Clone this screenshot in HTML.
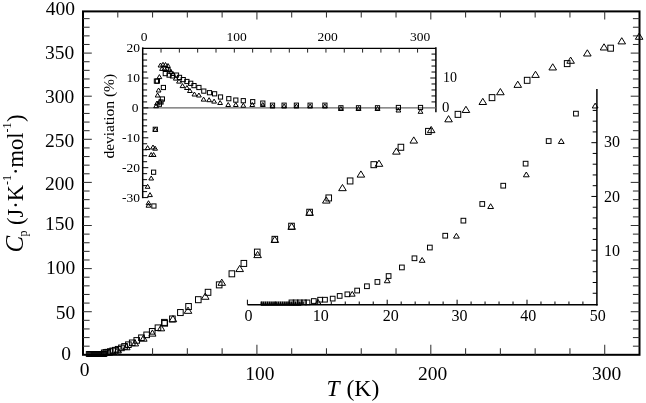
<!DOCTYPE html><html><head><meta charset="utf-8"><style>html,body{margin:0;padding:0;background:#fff;}svg{display:block;filter:grayscale(1);}text{font-family:"Liberation Serif",serif;fill:#000;}</style></head><body>
<svg width="646" height="403" viewBox="0 0 646 403">
<rect width="646" height="403" fill="#fff"/>
<rect x="83.00" y="11.40" width="556.50" height="343.40" fill="none" stroke="#000" stroke-width="2"/>
<line x1="117.78" y1="354.80" x2="117.78" y2="348.30" stroke="#333" stroke-width="1.05"/>
<line x1="117.78" y1="11.40" x2="117.78" y2="17.40" stroke="#333" stroke-width="1.05"/>
<line x1="152.56" y1="354.80" x2="152.56" y2="348.30" stroke="#333" stroke-width="1.05"/>
<line x1="152.56" y1="11.40" x2="152.56" y2="17.40" stroke="#333" stroke-width="1.05"/>
<line x1="187.34" y1="354.80" x2="187.34" y2="348.30" stroke="#333" stroke-width="1.05"/>
<line x1="187.34" y1="11.40" x2="187.34" y2="17.40" stroke="#333" stroke-width="1.05"/>
<line x1="222.12" y1="354.80" x2="222.12" y2="348.30" stroke="#333" stroke-width="1.05"/>
<line x1="222.12" y1="11.40" x2="222.12" y2="17.40" stroke="#333" stroke-width="1.05"/>
<line x1="256.91" y1="354.80" x2="256.91" y2="344.80" stroke="#333" stroke-width="1.05"/>
<line x1="256.91" y1="11.40" x2="256.91" y2="19.40" stroke="#333" stroke-width="1.05"/>
<line x1="291.69" y1="354.80" x2="291.69" y2="348.30" stroke="#333" stroke-width="1.05"/>
<line x1="291.69" y1="11.40" x2="291.69" y2="17.40" stroke="#333" stroke-width="1.05"/>
<line x1="326.47" y1="354.80" x2="326.47" y2="348.30" stroke="#333" stroke-width="1.05"/>
<line x1="326.47" y1="11.40" x2="326.47" y2="17.40" stroke="#333" stroke-width="1.05"/>
<line x1="361.25" y1="354.80" x2="361.25" y2="348.30" stroke="#333" stroke-width="1.05"/>
<line x1="361.25" y1="11.40" x2="361.25" y2="17.40" stroke="#333" stroke-width="1.05"/>
<line x1="396.03" y1="354.80" x2="396.03" y2="348.30" stroke="#333" stroke-width="1.05"/>
<line x1="396.03" y1="11.40" x2="396.03" y2="17.40" stroke="#333" stroke-width="1.05"/>
<line x1="430.81" y1="354.80" x2="430.81" y2="344.80" stroke="#333" stroke-width="1.05"/>
<line x1="430.81" y1="11.40" x2="430.81" y2="19.40" stroke="#333" stroke-width="1.05"/>
<line x1="465.59" y1="354.80" x2="465.59" y2="348.30" stroke="#333" stroke-width="1.05"/>
<line x1="465.59" y1="11.40" x2="465.59" y2="17.40" stroke="#333" stroke-width="1.05"/>
<line x1="500.38" y1="354.80" x2="500.38" y2="348.30" stroke="#333" stroke-width="1.05"/>
<line x1="500.38" y1="11.40" x2="500.38" y2="17.40" stroke="#333" stroke-width="1.05"/>
<line x1="535.16" y1="354.80" x2="535.16" y2="348.30" stroke="#333" stroke-width="1.05"/>
<line x1="535.16" y1="11.40" x2="535.16" y2="17.40" stroke="#333" stroke-width="1.05"/>
<line x1="569.94" y1="354.80" x2="569.94" y2="348.30" stroke="#333" stroke-width="1.05"/>
<line x1="569.94" y1="11.40" x2="569.94" y2="17.40" stroke="#333" stroke-width="1.05"/>
<line x1="604.72" y1="354.80" x2="604.72" y2="344.80" stroke="#333" stroke-width="1.05"/>
<line x1="604.72" y1="11.40" x2="604.72" y2="19.40" stroke="#333" stroke-width="1.05"/>
<line x1="83.00" y1="346.18" x2="89.60" y2="346.18" stroke="#333" stroke-width="1.05"/>
<line x1="639.50" y1="346.18" x2="632.90" y2="346.18" stroke="#333" stroke-width="1.05"/>
<line x1="83.00" y1="337.56" x2="89.60" y2="337.56" stroke="#333" stroke-width="1.05"/>
<line x1="639.50" y1="337.56" x2="632.90" y2="337.56" stroke="#333" stroke-width="1.05"/>
<line x1="83.00" y1="328.94" x2="89.60" y2="328.94" stroke="#333" stroke-width="1.05"/>
<line x1="639.50" y1="328.94" x2="632.90" y2="328.94" stroke="#333" stroke-width="1.05"/>
<line x1="83.00" y1="320.32" x2="89.60" y2="320.32" stroke="#333" stroke-width="1.05"/>
<line x1="639.50" y1="320.32" x2="632.90" y2="320.32" stroke="#333" stroke-width="1.05"/>
<line x1="83.00" y1="311.70" x2="91.80" y2="311.70" stroke="#333" stroke-width="1.05"/>
<line x1="639.50" y1="311.70" x2="630.70" y2="311.70" stroke="#333" stroke-width="1.05"/>
<line x1="83.00" y1="303.08" x2="89.60" y2="303.08" stroke="#333" stroke-width="1.05"/>
<line x1="639.50" y1="303.08" x2="632.90" y2="303.08" stroke="#333" stroke-width="1.05"/>
<line x1="83.00" y1="294.46" x2="89.60" y2="294.46" stroke="#333" stroke-width="1.05"/>
<line x1="639.50" y1="294.46" x2="632.90" y2="294.46" stroke="#333" stroke-width="1.05"/>
<line x1="83.00" y1="285.84" x2="89.60" y2="285.84" stroke="#333" stroke-width="1.05"/>
<line x1="639.50" y1="285.84" x2="632.90" y2="285.84" stroke="#333" stroke-width="1.05"/>
<line x1="83.00" y1="277.22" x2="89.60" y2="277.22" stroke="#333" stroke-width="1.05"/>
<line x1="639.50" y1="277.22" x2="632.90" y2="277.22" stroke="#333" stroke-width="1.05"/>
<line x1="83.00" y1="268.60" x2="91.80" y2="268.60" stroke="#333" stroke-width="1.05"/>
<line x1="639.50" y1="268.60" x2="630.70" y2="268.60" stroke="#333" stroke-width="1.05"/>
<line x1="83.00" y1="259.98" x2="89.60" y2="259.98" stroke="#333" stroke-width="1.05"/>
<line x1="639.50" y1="259.98" x2="632.90" y2="259.98" stroke="#333" stroke-width="1.05"/>
<line x1="83.00" y1="251.36" x2="89.60" y2="251.36" stroke="#333" stroke-width="1.05"/>
<line x1="639.50" y1="251.36" x2="632.90" y2="251.36" stroke="#333" stroke-width="1.05"/>
<line x1="83.00" y1="242.74" x2="89.60" y2="242.74" stroke="#333" stroke-width="1.05"/>
<line x1="639.50" y1="242.74" x2="632.90" y2="242.74" stroke="#333" stroke-width="1.05"/>
<line x1="83.00" y1="234.12" x2="89.60" y2="234.12" stroke="#333" stroke-width="1.05"/>
<line x1="639.50" y1="234.12" x2="632.90" y2="234.12" stroke="#333" stroke-width="1.05"/>
<line x1="83.00" y1="225.50" x2="91.80" y2="225.50" stroke="#333" stroke-width="1.05"/>
<line x1="639.50" y1="225.50" x2="630.70" y2="225.50" stroke="#333" stroke-width="1.05"/>
<line x1="83.00" y1="216.88" x2="89.60" y2="216.88" stroke="#333" stroke-width="1.05"/>
<line x1="639.50" y1="216.88" x2="632.90" y2="216.88" stroke="#333" stroke-width="1.05"/>
<line x1="83.00" y1="208.26" x2="89.60" y2="208.26" stroke="#333" stroke-width="1.05"/>
<line x1="639.50" y1="208.26" x2="632.90" y2="208.26" stroke="#333" stroke-width="1.05"/>
<line x1="83.00" y1="199.64" x2="89.60" y2="199.64" stroke="#333" stroke-width="1.05"/>
<line x1="639.50" y1="199.64" x2="632.90" y2="199.64" stroke="#333" stroke-width="1.05"/>
<line x1="83.00" y1="191.02" x2="89.60" y2="191.02" stroke="#333" stroke-width="1.05"/>
<line x1="639.50" y1="191.02" x2="632.90" y2="191.02" stroke="#333" stroke-width="1.05"/>
<line x1="83.00" y1="182.40" x2="91.80" y2="182.40" stroke="#333" stroke-width="1.05"/>
<line x1="639.50" y1="182.40" x2="630.70" y2="182.40" stroke="#333" stroke-width="1.05"/>
<line x1="83.00" y1="173.78" x2="89.60" y2="173.78" stroke="#333" stroke-width="1.05"/>
<line x1="639.50" y1="173.78" x2="632.90" y2="173.78" stroke="#333" stroke-width="1.05"/>
<line x1="83.00" y1="165.16" x2="89.60" y2="165.16" stroke="#333" stroke-width="1.05"/>
<line x1="639.50" y1="165.16" x2="632.90" y2="165.16" stroke="#333" stroke-width="1.05"/>
<line x1="83.00" y1="156.54" x2="89.60" y2="156.54" stroke="#333" stroke-width="1.05"/>
<line x1="639.50" y1="156.54" x2="632.90" y2="156.54" stroke="#333" stroke-width="1.05"/>
<line x1="83.00" y1="147.92" x2="89.60" y2="147.92" stroke="#333" stroke-width="1.05"/>
<line x1="639.50" y1="147.92" x2="632.90" y2="147.92" stroke="#333" stroke-width="1.05"/>
<line x1="83.00" y1="139.30" x2="91.80" y2="139.30" stroke="#333" stroke-width="1.05"/>
<line x1="639.50" y1="139.30" x2="630.70" y2="139.30" stroke="#333" stroke-width="1.05"/>
<line x1="83.00" y1="130.68" x2="89.60" y2="130.68" stroke="#333" stroke-width="1.05"/>
<line x1="639.50" y1="130.68" x2="632.90" y2="130.68" stroke="#333" stroke-width="1.05"/>
<line x1="83.00" y1="122.06" x2="89.60" y2="122.06" stroke="#333" stroke-width="1.05"/>
<line x1="639.50" y1="122.06" x2="632.90" y2="122.06" stroke="#333" stroke-width="1.05"/>
<line x1="83.00" y1="113.44" x2="89.60" y2="113.44" stroke="#333" stroke-width="1.05"/>
<line x1="639.50" y1="113.44" x2="632.90" y2="113.44" stroke="#333" stroke-width="1.05"/>
<line x1="83.00" y1="104.82" x2="89.60" y2="104.82" stroke="#333" stroke-width="1.05"/>
<line x1="639.50" y1="104.82" x2="632.90" y2="104.82" stroke="#333" stroke-width="1.05"/>
<line x1="83.00" y1="96.20" x2="91.80" y2="96.20" stroke="#333" stroke-width="1.05"/>
<line x1="639.50" y1="96.20" x2="630.70" y2="96.20" stroke="#333" stroke-width="1.05"/>
<line x1="83.00" y1="87.58" x2="89.60" y2="87.58" stroke="#333" stroke-width="1.05"/>
<line x1="639.50" y1="87.58" x2="632.90" y2="87.58" stroke="#333" stroke-width="1.05"/>
<line x1="83.00" y1="78.96" x2="89.60" y2="78.96" stroke="#333" stroke-width="1.05"/>
<line x1="639.50" y1="78.96" x2="632.90" y2="78.96" stroke="#333" stroke-width="1.05"/>
<line x1="83.00" y1="70.34" x2="89.60" y2="70.34" stroke="#333" stroke-width="1.05"/>
<line x1="639.50" y1="70.34" x2="632.90" y2="70.34" stroke="#333" stroke-width="1.05"/>
<line x1="83.00" y1="61.72" x2="89.60" y2="61.72" stroke="#333" stroke-width="1.05"/>
<line x1="639.50" y1="61.72" x2="632.90" y2="61.72" stroke="#333" stroke-width="1.05"/>
<line x1="83.00" y1="53.10" x2="91.80" y2="53.10" stroke="#333" stroke-width="1.05"/>
<line x1="639.50" y1="53.10" x2="630.70" y2="53.10" stroke="#333" stroke-width="1.05"/>
<line x1="83.00" y1="44.48" x2="89.60" y2="44.48" stroke="#333" stroke-width="1.05"/>
<line x1="639.50" y1="44.48" x2="632.90" y2="44.48" stroke="#333" stroke-width="1.05"/>
<line x1="83.00" y1="35.86" x2="89.60" y2="35.86" stroke="#333" stroke-width="1.05"/>
<line x1="639.50" y1="35.86" x2="632.90" y2="35.86" stroke="#333" stroke-width="1.05"/>
<line x1="83.00" y1="27.24" x2="89.60" y2="27.24" stroke="#333" stroke-width="1.05"/>
<line x1="639.50" y1="27.24" x2="632.90" y2="27.24" stroke="#333" stroke-width="1.05"/>
<line x1="83.00" y1="18.62" x2="89.60" y2="18.62" stroke="#333" stroke-width="1.05"/>
<line x1="639.50" y1="18.62" x2="632.90" y2="18.62" stroke="#333" stroke-width="1.05"/>
<text x="75.10" y="15.10" font-size="19.5" text-anchor="end" >400</text>
<text x="74.30" y="58.80" font-size="19.5" text-anchor="end" >350</text>
<text x="74.30" y="103.00" font-size="19.5" text-anchor="end" >300</text>
<text x="74.30" y="146.90" font-size="19.5" text-anchor="end" >250</text>
<text x="74.30" y="190.10" font-size="19.5" text-anchor="end" >200</text>
<text x="74.30" y="230.40" font-size="19.5" text-anchor="end" >150</text>
<text x="75.20" y="274.30" font-size="19.5" text-anchor="end" >100</text>
<text x="75.20" y="318.60" font-size="19.5" text-anchor="end" >50</text>
<text x="71.00" y="359.70" font-size="19.5" text-anchor="end" >0</text>
<text x="84.50" y="375.90" font-size="19.5" text-anchor="middle" >0</text>
<text x="259.80" y="379.80" font-size="19.5" text-anchor="middle" >100</text>
<text x="432.70" y="379.80" font-size="19.5" text-anchor="middle" >200</text>
<text x="606.60" y="379.80" font-size="19.5" text-anchor="middle" >300</text>
<text x="326.6" y="395.8" font-size="23.5" font-style="italic">T</text>
<text x="346.5" y="395.8" font-size="23.6">(K)</text>
<text transform="translate(23.0,252.6) rotate(-90)" font-size="22.5"><tspan font-style="italic" font-size="25">C</tspan><tspan font-size="12" dy="4" dx="-0.6">p</tspan><tspan dy="-4"> (J·K</tspan><tspan font-size="12" dy="-11.8">-1</tspan><tspan dy="11.8">·mol</tspan><tspan font-size="12" dy="-11.8">-1</tspan><tspan dy="11.8" dx="0.3">)</tspan></text>
<line x1="142.7" y1="48.4" x2="435.9" y2="48.4" stroke="#000" stroke-width="1.35"/>
<line x1="142.7" y1="47.35" x2="142.7" y2="198.20000000000002" stroke="#000" stroke-width="1.5"/>
<line x1="435.9" y1="47.35" x2="435.9" y2="112.2" stroke="#000" stroke-width="1.5"/>
<line x1="142.7" y1="107.9" x2="435.9" y2="107.9" stroke="#666" stroke-width="1.3"/>
<line x1="161.02" y1="48.40" x2="161.02" y2="52.60" stroke="#222" stroke-width="1"/>
<line x1="179.35" y1="48.40" x2="179.35" y2="52.60" stroke="#222" stroke-width="1"/>
<line x1="197.67" y1="48.40" x2="197.67" y2="52.60" stroke="#222" stroke-width="1"/>
<line x1="216.00" y1="48.40" x2="216.00" y2="52.60" stroke="#222" stroke-width="1"/>
<line x1="234.32" y1="48.40" x2="234.32" y2="52.60" stroke="#222" stroke-width="1"/>
<line x1="252.65" y1="48.40" x2="252.65" y2="52.60" stroke="#222" stroke-width="1"/>
<line x1="270.98" y1="48.40" x2="270.98" y2="52.60" stroke="#222" stroke-width="1"/>
<line x1="289.30" y1="48.40" x2="289.30" y2="52.60" stroke="#222" stroke-width="1"/>
<line x1="307.62" y1="48.40" x2="307.62" y2="52.60" stroke="#222" stroke-width="1"/>
<line x1="325.95" y1="48.40" x2="325.95" y2="52.60" stroke="#222" stroke-width="1"/>
<line x1="344.27" y1="48.40" x2="344.27" y2="52.60" stroke="#222" stroke-width="1"/>
<line x1="362.60" y1="48.40" x2="362.60" y2="52.60" stroke="#222" stroke-width="1"/>
<line x1="380.92" y1="48.40" x2="380.92" y2="52.60" stroke="#222" stroke-width="1"/>
<line x1="399.25" y1="48.40" x2="399.25" y2="52.60" stroke="#222" stroke-width="1"/>
<line x1="417.57" y1="48.40" x2="417.57" y2="52.60" stroke="#222" stroke-width="1"/>
<line x1="142.70" y1="197.60" x2="148.30" y2="197.60" stroke="#000" stroke-width="1"/>
<line x1="142.70" y1="191.62" x2="147.10" y2="191.62" stroke="#000" stroke-width="1"/>
<line x1="142.70" y1="185.64" x2="147.10" y2="185.64" stroke="#000" stroke-width="1"/>
<line x1="142.70" y1="179.66" x2="147.10" y2="179.66" stroke="#000" stroke-width="1"/>
<line x1="142.70" y1="173.68" x2="147.10" y2="173.68" stroke="#000" stroke-width="1"/>
<line x1="142.70" y1="167.70" x2="148.30" y2="167.70" stroke="#000" stroke-width="1"/>
<line x1="142.70" y1="161.72" x2="147.10" y2="161.72" stroke="#000" stroke-width="1"/>
<line x1="142.70" y1="155.74" x2="147.10" y2="155.74" stroke="#000" stroke-width="1"/>
<line x1="142.70" y1="149.76" x2="147.10" y2="149.76" stroke="#000" stroke-width="1"/>
<line x1="142.70" y1="143.78" x2="147.10" y2="143.78" stroke="#000" stroke-width="1"/>
<line x1="142.70" y1="137.80" x2="148.30" y2="137.80" stroke="#000" stroke-width="1"/>
<line x1="142.70" y1="131.82" x2="147.10" y2="131.82" stroke="#000" stroke-width="1"/>
<line x1="142.70" y1="125.84" x2="147.10" y2="125.84" stroke="#000" stroke-width="1"/>
<line x1="142.70" y1="119.86" x2="147.10" y2="119.86" stroke="#000" stroke-width="1"/>
<line x1="142.70" y1="113.88" x2="147.10" y2="113.88" stroke="#000" stroke-width="1"/>
<line x1="142.70" y1="107.90" x2="148.30" y2="107.90" stroke="#000" stroke-width="1"/>
<line x1="142.70" y1="101.92" x2="147.10" y2="101.92" stroke="#000" stroke-width="1"/>
<line x1="142.70" y1="95.94" x2="147.10" y2="95.94" stroke="#000" stroke-width="1"/>
<line x1="142.70" y1="89.96" x2="147.10" y2="89.96" stroke="#000" stroke-width="1"/>
<line x1="142.70" y1="83.98" x2="147.10" y2="83.98" stroke="#000" stroke-width="1"/>
<line x1="142.70" y1="78.00" x2="148.30" y2="78.00" stroke="#000" stroke-width="1"/>
<line x1="142.70" y1="72.02" x2="147.10" y2="72.02" stroke="#000" stroke-width="1"/>
<line x1="142.70" y1="66.04" x2="147.10" y2="66.04" stroke="#000" stroke-width="1"/>
<line x1="142.70" y1="60.06" x2="147.10" y2="60.06" stroke="#000" stroke-width="1"/>
<line x1="142.70" y1="54.08" x2="147.10" y2="54.08" stroke="#000" stroke-width="1"/>
<line x1="435.90" y1="101.92" x2="431.50" y2="101.92" stroke="#000" stroke-width="1"/>
<line x1="435.90" y1="95.94" x2="431.50" y2="95.94" stroke="#000" stroke-width="1"/>
<line x1="435.90" y1="89.96" x2="431.50" y2="89.96" stroke="#000" stroke-width="1"/>
<line x1="435.90" y1="83.98" x2="431.50" y2="83.98" stroke="#000" stroke-width="1"/>
<line x1="435.90" y1="78.00" x2="430.30" y2="78.00" stroke="#000" stroke-width="1"/>
<line x1="435.90" y1="72.02" x2="431.50" y2="72.02" stroke="#000" stroke-width="1"/>
<line x1="435.90" y1="66.04" x2="431.50" y2="66.04" stroke="#000" stroke-width="1"/>
<line x1="435.90" y1="60.06" x2="431.50" y2="60.06" stroke="#000" stroke-width="1"/>
<line x1="435.90" y1="54.08" x2="431.50" y2="54.08" stroke="#000" stroke-width="1"/>
<text x="144.10" y="41.30" font-size="13.5" text-anchor="middle" >0</text>
<text x="236.70" y="41.30" font-size="13.5" text-anchor="middle" >100</text>
<text x="327.50" y="41.30" font-size="13.5" text-anchor="middle" >200</text>
<text x="420.00" y="41.30" font-size="13.5" text-anchor="middle" >300</text>
<text x="140.10" y="51.60" font-size="13.5" text-anchor="end" >20</text>
<text x="140.10" y="81.90" font-size="13.5" text-anchor="end" >10</text>
<text x="138.40" y="111.50" font-size="13.5" text-anchor="end" >0</text>
<text x="140.00" y="142.10" font-size="13.5" text-anchor="end" >-10</text>
<text x="140.00" y="172.30" font-size="13.5" text-anchor="end" >-20</text>
<text x="140.00" y="201.90" font-size="13.5" text-anchor="end" >-30</text>
<text x="442.90" y="81.90" font-size="14.0" text-anchor="start" >10</text>
<text x="442.00" y="111.60" font-size="14.8" text-anchor="start" >0</text>
<text transform="translate(114.0,158.6) rotate(-90)" font-size="15.5">deviation (%)</text>
<line x1="247.4" y1="304.7" x2="597.6" y2="304.7" stroke="#000" stroke-width="1.5"/>
<line x1="596.9" y1="88.9" x2="596.9" y2="305.4" stroke="#000" stroke-width="1.5"/>
<line x1="247.40" y1="304.70" x2="247.40" y2="299.70" stroke="#000" stroke-width="1"/>
<line x1="261.38" y1="304.70" x2="261.38" y2="301.50" stroke="#000" stroke-width="1"/>
<line x1="275.36" y1="304.70" x2="275.36" y2="301.50" stroke="#000" stroke-width="1"/>
<line x1="289.34" y1="304.70" x2="289.34" y2="301.50" stroke="#000" stroke-width="1"/>
<line x1="303.32" y1="304.70" x2="303.32" y2="301.50" stroke="#000" stroke-width="1"/>
<line x1="317.30" y1="304.70" x2="317.30" y2="299.70" stroke="#000" stroke-width="1"/>
<line x1="331.28" y1="304.70" x2="331.28" y2="301.50" stroke="#000" stroke-width="1"/>
<line x1="345.26" y1="304.70" x2="345.26" y2="301.50" stroke="#000" stroke-width="1"/>
<line x1="359.24" y1="304.70" x2="359.24" y2="301.50" stroke="#000" stroke-width="1"/>
<line x1="373.22" y1="304.70" x2="373.22" y2="301.50" stroke="#000" stroke-width="1"/>
<line x1="387.20" y1="304.70" x2="387.20" y2="299.70" stroke="#000" stroke-width="1"/>
<line x1="401.18" y1="304.70" x2="401.18" y2="301.50" stroke="#000" stroke-width="1"/>
<line x1="415.16" y1="304.70" x2="415.16" y2="301.50" stroke="#000" stroke-width="1"/>
<line x1="429.14" y1="304.70" x2="429.14" y2="301.50" stroke="#000" stroke-width="1"/>
<line x1="443.12" y1="304.70" x2="443.12" y2="301.50" stroke="#000" stroke-width="1"/>
<line x1="457.10" y1="304.70" x2="457.10" y2="299.70" stroke="#000" stroke-width="1"/>
<line x1="471.08" y1="304.70" x2="471.08" y2="301.50" stroke="#000" stroke-width="1"/>
<line x1="485.06" y1="304.70" x2="485.06" y2="301.50" stroke="#000" stroke-width="1"/>
<line x1="499.04" y1="304.70" x2="499.04" y2="301.50" stroke="#000" stroke-width="1"/>
<line x1="513.02" y1="304.70" x2="513.02" y2="301.50" stroke="#000" stroke-width="1"/>
<line x1="527.00" y1="304.70" x2="527.00" y2="299.70" stroke="#000" stroke-width="1"/>
<line x1="540.98" y1="304.70" x2="540.98" y2="301.50" stroke="#000" stroke-width="1"/>
<line x1="554.96" y1="304.70" x2="554.96" y2="301.50" stroke="#000" stroke-width="1"/>
<line x1="568.94" y1="304.70" x2="568.94" y2="301.50" stroke="#000" stroke-width="1"/>
<line x1="582.92" y1="304.70" x2="582.92" y2="301.50" stroke="#000" stroke-width="1"/>
<line x1="596.90" y1="293.25" x2="592.70" y2="293.25" stroke="#000" stroke-width="1"/>
<line x1="596.90" y1="282.49" x2="592.70" y2="282.49" stroke="#000" stroke-width="1"/>
<line x1="596.90" y1="271.74" x2="592.70" y2="271.74" stroke="#000" stroke-width="1"/>
<line x1="596.90" y1="260.98" x2="592.70" y2="260.98" stroke="#000" stroke-width="1"/>
<line x1="596.90" y1="250.22" x2="591.40" y2="250.22" stroke="#000" stroke-width="1"/>
<line x1="596.90" y1="239.47" x2="592.70" y2="239.47" stroke="#000" stroke-width="1"/>
<line x1="596.90" y1="228.72" x2="592.70" y2="228.72" stroke="#000" stroke-width="1"/>
<line x1="596.90" y1="217.96" x2="592.70" y2="217.96" stroke="#000" stroke-width="1"/>
<line x1="596.90" y1="207.21" x2="592.70" y2="207.21" stroke="#000" stroke-width="1"/>
<line x1="596.90" y1="196.45" x2="591.40" y2="196.45" stroke="#000" stroke-width="1"/>
<line x1="596.90" y1="185.69" x2="592.70" y2="185.69" stroke="#000" stroke-width="1"/>
<line x1="596.90" y1="174.94" x2="592.70" y2="174.94" stroke="#000" stroke-width="1"/>
<line x1="596.90" y1="164.19" x2="592.70" y2="164.19" stroke="#000" stroke-width="1"/>
<line x1="596.90" y1="153.43" x2="592.70" y2="153.43" stroke="#000" stroke-width="1"/>
<line x1="596.90" y1="142.68" x2="591.40" y2="142.68" stroke="#000" stroke-width="1"/>
<line x1="596.90" y1="131.92" x2="592.70" y2="131.92" stroke="#000" stroke-width="1"/>
<line x1="596.90" y1="121.17" x2="592.70" y2="121.17" stroke="#000" stroke-width="1"/>
<line x1="596.90" y1="110.41" x2="592.70" y2="110.41" stroke="#000" stroke-width="1"/>
<text x="248.50" y="320.80" font-size="16" text-anchor="middle" >0</text>
<text x="320.75" y="320.80" font-size="16" text-anchor="middle" >10</text>
<text x="390.75" y="320.80" font-size="16" text-anchor="middle" >20</text>
<text x="459.50" y="320.80" font-size="16" text-anchor="middle" >30</text>
<text x="528.15" y="320.80" font-size="16" text-anchor="middle" >40</text>
<text x="597.75" y="320.80" font-size="16" text-anchor="middle" >50</text>
<text x="604.00" y="255.60" font-size="16" text-anchor="start" >10</text>
<text x="604.00" y="202.20" font-size="16" text-anchor="start" >20</text>
<text x="604.00" y="146.60" font-size="16" text-anchor="start" >30</text>
<rect x="86.34" y="351.60" width="4.80" height="4.80" fill="none" stroke="#000" stroke-width="1.0"/>
<rect x="87.31" y="351.60" width="4.80" height="4.80" fill="none" stroke="#000" stroke-width="1.0"/>
<rect x="88.29" y="351.60" width="4.80" height="4.80" fill="none" stroke="#000" stroke-width="1.0"/>
<rect x="89.26" y="351.60" width="4.80" height="4.80" fill="none" stroke="#000" stroke-width="1.0"/>
<rect x="90.23" y="351.60" width="4.80" height="4.80" fill="none" stroke="#000" stroke-width="1.0"/>
<rect x="91.21" y="351.60" width="4.80" height="4.80" fill="none" stroke="#000" stroke-width="1.0"/>
<rect x="92.18" y="351.60" width="4.80" height="4.80" fill="none" stroke="#000" stroke-width="1.0"/>
<rect x="93.16" y="351.60" width="4.80" height="4.80" fill="none" stroke="#000" stroke-width="1.0"/>
<rect x="94.13" y="351.60" width="4.80" height="4.80" fill="none" stroke="#000" stroke-width="1.0"/>
<rect x="95.10" y="351.60" width="4.80" height="4.80" fill="none" stroke="#000" stroke-width="1.0"/>
<rect x="96.08" y="351.60" width="4.80" height="4.80" fill="none" stroke="#000" stroke-width="1.0"/>
<rect x="97.05" y="351.60" width="4.80" height="4.80" fill="none" stroke="#000" stroke-width="1.0"/>
<rect x="98.03" y="351.60" width="4.80" height="4.80" fill="none" stroke="#000" stroke-width="1.0"/>
<rect x="99.00" y="351.60" width="4.80" height="4.80" fill="none" stroke="#000" stroke-width="1.0"/>
<rect x="99.97" y="351.60" width="4.80" height="4.80" fill="none" stroke="#000" stroke-width="1.0"/>
<rect x="100.95" y="351.60" width="4.80" height="4.80" fill="none" stroke="#000" stroke-width="1.0"/>
<rect x="101.92" y="351.60" width="4.80" height="4.80" fill="none" stroke="#000" stroke-width="1.0"/>
<rect x="101.42" y="350.04" width="5.60" height="5.60" fill="none" stroke="#000" stroke-width="1.0"/>
<rect x="103.16" y="349.61" width="5.60" height="5.60" fill="none" stroke="#000" stroke-width="1.0"/>
<rect x="105.07" y="349.36" width="5.60" height="5.60" fill="none" stroke="#000" stroke-width="1.0"/>
<rect x="107.50" y="348.76" width="5.60" height="5.60" fill="none" stroke="#000" stroke-width="1.0"/>
<rect x="109.94" y="348.07" width="5.60" height="5.60" fill="none" stroke="#000" stroke-width="1.0"/>
<rect x="112.55" y="347.39" width="5.60" height="5.60" fill="none" stroke="#000" stroke-width="1.0"/>
<rect x="115.33" y="346.44" width="5.60" height="5.60" fill="none" stroke="#000" stroke-width="1.0"/>
<rect x="118.63" y="345.07" width="5.60" height="5.60" fill="none" stroke="#000" stroke-width="1.0"/>
<rect x="121.76" y="343.61" width="5.60" height="5.60" fill="none" stroke="#000" stroke-width="1.0"/>
<rect x="125.59" y="341.90" width="5.60" height="5.60" fill="none" stroke="#000" stroke-width="1.0"/>
<rect x="129.42" y="340.01" width="5.60" height="5.60" fill="none" stroke="#000" stroke-width="1.0"/>
<rect x="133.94" y="337.61" width="5.60" height="5.60" fill="none" stroke="#000" stroke-width="1.0"/>
<rect x="138.63" y="334.96" width="5.60" height="5.60" fill="none" stroke="#000" stroke-width="1.0"/>
<rect x="143.85" y="332.04" width="5.60" height="5.60" fill="none" stroke="#000" stroke-width="1.0"/>
<rect x="149.41" y="328.53" width="5.60" height="5.60" fill="none" stroke="#000" stroke-width="1.0"/>
<rect x="155.15" y="324.93" width="5.60" height="5.60" fill="none" stroke="#000" stroke-width="1.0"/>
<rect x="161.94" y="320.55" width="5.60" height="5.60" fill="none" stroke="#000" stroke-width="1.0"/>
<path d="M109.09 348.97L112.69 355.17L105.49 355.17Z" fill="none" stroke="#000" stroke-width="1.0" stroke-linejoin="miter"/>
<path d="M117.78 346.83L121.38 353.03L114.18 353.03Z" fill="none" stroke="#000" stroke-width="1.0" stroke-linejoin="miter"/>
<path d="M126.48 343.57L130.08 349.77L122.88 349.77Z" fill="none" stroke="#000" stroke-width="1.0" stroke-linejoin="miter"/>
<path d="M135.00 339.71L138.60 345.91L131.40 345.91Z" fill="none" stroke="#000" stroke-width="1.0" stroke-linejoin="miter"/>
<path d="M143.52 335.00L147.12 341.20L139.92 341.20Z" fill="none" stroke="#000" stroke-width="1.0" stroke-linejoin="miter"/>
<path d="M152.39 329.94L155.99 336.14L148.79 336.14Z" fill="none" stroke="#000" stroke-width="1.0" stroke-linejoin="miter"/>
<path d="M161.08 324.63L164.68 330.83L157.48 330.83Z" fill="none" stroke="#000" stroke-width="1.0" stroke-linejoin="miter"/>
<rect x="161.59" y="319.41" width="5.60" height="6.00" fill="none" stroke="#000" stroke-width="1.0"/>
<rect x="169.59" y="315.98" width="5.60" height="6.00" fill="none" stroke="#000" stroke-width="1.0"/>
<rect x="177.59" y="309.55" width="5.60" height="6.00" fill="none" stroke="#000" stroke-width="1.0"/>
<rect x="185.76" y="303.55" width="5.60" height="6.00" fill="none" stroke="#000" stroke-width="1.0"/>
<rect x="195.50" y="296.69" width="5.60" height="6.00" fill="none" stroke="#000" stroke-width="1.0"/>
<rect x="205.24" y="289.32" width="5.60" height="6.00" fill="none" stroke="#000" stroke-width="1.0"/>
<rect x="216.37" y="281.86" width="5.60" height="6.00" fill="none" stroke="#000" stroke-width="1.0"/>
<rect x="229.06" y="270.80" width="5.60" height="6.00" fill="none" stroke="#000" stroke-width="1.0"/>
<rect x="241.06" y="260.43" width="5.60" height="6.00" fill="none" stroke="#000" stroke-width="1.0"/>
<rect x="254.45" y="249.12" width="5.60" height="6.00" fill="none" stroke="#000" stroke-width="1.0"/>
<rect x="272.02" y="236.34" width="5.60" height="6.00" fill="none" stroke="#000" stroke-width="1.0"/>
<rect x="288.71" y="223.23" width="5.60" height="6.00" fill="none" stroke="#000" stroke-width="1.0"/>
<rect x="306.80" y="209.25" width="5.60" height="6.00" fill="none" stroke="#000" stroke-width="1.0"/>
<rect x="325.93" y="194.94" width="5.60" height="6.00" fill="none" stroke="#000" stroke-width="1.0"/>
<rect x="347.32" y="177.96" width="5.60" height="6.00" fill="none" stroke="#000" stroke-width="1.0"/>
<rect x="370.97" y="161.68" width="5.60" height="6.00" fill="none" stroke="#000" stroke-width="1.0"/>
<rect x="398.10" y="144.27" width="5.60" height="6.00" fill="none" stroke="#000" stroke-width="1.0"/>
<rect x="425.58" y="128.41" width="5.60" height="6.00" fill="none" stroke="#000" stroke-width="1.0"/>
<rect x="455.14" y="111.36" width="5.60" height="6.00" fill="none" stroke="#000" stroke-width="1.0"/>
<rect x="489.23" y="94.64" width="5.60" height="6.00" fill="none" stroke="#000" stroke-width="1.0"/>
<rect x="524.36" y="77.32" width="5.60" height="6.00" fill="none" stroke="#000" stroke-width="1.0"/>
<rect x="564.36" y="60.61" width="5.60" height="6.00" fill="none" stroke="#000" stroke-width="1.0"/>
<rect x="607.83" y="45.18" width="5.60" height="6.00" fill="none" stroke="#000" stroke-width="1.0"/>
<path d="M172.91 315.54L176.71 321.74L169.11 321.74Z" fill="none" stroke="#000" stroke-width="1.0" stroke-linejoin="miter"/>
<path d="M188.04 307.14L191.84 313.34L184.24 313.34Z" fill="none" stroke="#000" stroke-width="1.0" stroke-linejoin="miter"/>
<path d="M205.26 293.08L209.06 299.28L201.46 299.28Z" fill="none" stroke="#000" stroke-width="1.0" stroke-linejoin="miter"/>
<path d="M221.78 279.11L225.58 285.31L217.98 285.31Z" fill="none" stroke="#000" stroke-width="1.0" stroke-linejoin="miter"/>
<path d="M239.69 265.39L243.49 271.59L235.89 271.59Z" fill="none" stroke="#000" stroke-width="1.0" stroke-linejoin="miter"/>
<path d="M257.60 251.42L261.40 257.62L253.80 257.62Z" fill="none" stroke="#000" stroke-width="1.0" stroke-linejoin="miter"/>
<path d="M274.82 236.24L278.62 242.44L271.02 242.44Z" fill="none" stroke="#000" stroke-width="1.0" stroke-linejoin="miter"/>
<path d="M291.69 223.13L295.49 229.33L287.89 229.33Z" fill="none" stroke="#000" stroke-width="1.0" stroke-linejoin="miter"/>
<path d="M309.60 209.15L313.40 215.35L305.80 215.35Z" fill="none" stroke="#000" stroke-width="1.0" stroke-linejoin="miter"/>
<path d="M326.29 196.90L330.09 203.09L322.49 203.09Z" fill="none" stroke="#000" stroke-width="1.0" stroke-linejoin="miter"/>
<path d="M342.47 184.46L346.27 190.66L338.67 190.66Z" fill="none" stroke="#000" stroke-width="1.0" stroke-linejoin="miter"/>
<path d="M360.90 170.92L364.70 177.12L357.10 177.12Z" fill="none" stroke="#000" stroke-width="1.0" stroke-linejoin="miter"/>
<path d="M378.99 160.12L382.79 166.32L375.19 166.32Z" fill="none" stroke="#000" stroke-width="1.0" stroke-linejoin="miter"/>
<path d="M396.38 147.95L400.18 154.15L392.58 154.15Z" fill="none" stroke="#000" stroke-width="1.0" stroke-linejoin="miter"/>
<path d="M413.77 136.89L417.57 143.09L409.97 143.09Z" fill="none" stroke="#000" stroke-width="1.0" stroke-linejoin="miter"/>
<path d="M431.16 126.43L434.96 132.63L427.36 132.63Z" fill="none" stroke="#000" stroke-width="1.0" stroke-linejoin="miter"/>
<path d="M448.55 115.63L452.35 121.83L444.75 121.83Z" fill="none" stroke="#000" stroke-width="1.0" stroke-linejoin="miter"/>
<path d="M465.94 106.28L469.74 112.48L462.14 112.48Z" fill="none" stroke="#000" stroke-width="1.0" stroke-linejoin="miter"/>
<path d="M482.81 98.31L486.61 104.51L479.01 104.51Z" fill="none" stroke="#000" stroke-width="1.0" stroke-linejoin="miter"/>
<path d="M500.38 88.54L504.18 94.74L496.57 94.74Z" fill="none" stroke="#000" stroke-width="1.0" stroke-linejoin="miter"/>
<path d="M517.77 81.17L521.57 87.37L513.97 87.37Z" fill="none" stroke="#000" stroke-width="1.0" stroke-linejoin="miter"/>
<path d="M535.50 71.22L539.30 77.42L531.70 77.42Z" fill="none" stroke="#000" stroke-width="1.0" stroke-linejoin="miter"/>
<path d="M552.72 63.76L556.52 69.96L548.92 69.96Z" fill="none" stroke="#000" stroke-width="1.0" stroke-linejoin="miter"/>
<path d="M570.63 57.08L574.43 63.28L566.83 63.28Z" fill="none" stroke="#000" stroke-width="1.0" stroke-linejoin="miter"/>
<path d="M587.33 49.79L591.13 55.99L583.53 55.99Z" fill="none" stroke="#000" stroke-width="1.0" stroke-linejoin="miter"/>
<path d="M604.02 43.79L607.82 49.99L600.22 49.99Z" fill="none" stroke="#000" stroke-width="1.0" stroke-linejoin="miter"/>
<path d="M621.76 37.70L625.56 43.90L617.96 43.90Z" fill="none" stroke="#000" stroke-width="1.0" stroke-linejoin="miter"/>
<path d="M639.15 33.07L642.95 39.27L635.35 39.27Z" fill="none" stroke="#000" stroke-width="1.0" stroke-linejoin="miter"/>
<rect x="260.8" y="303.3" width="40.4" height="2.5" fill="#000"/>
<rect x="261.10" y="302.10" width="2.20" height="2.20" fill="none" stroke="#000" stroke-width="0.9"/>
<rect x="263.25" y="302.10" width="2.20" height="2.20" fill="none" stroke="#000" stroke-width="0.9"/>
<rect x="265.40" y="302.10" width="2.20" height="2.20" fill="none" stroke="#000" stroke-width="0.9"/>
<rect x="267.55" y="302.10" width="2.20" height="2.20" fill="none" stroke="#000" stroke-width="0.9"/>
<rect x="269.70" y="302.10" width="2.20" height="2.20" fill="none" stroke="#000" stroke-width="0.9"/>
<rect x="271.85" y="302.10" width="2.20" height="2.20" fill="none" stroke="#000" stroke-width="0.9"/>
<rect x="274.00" y="302.10" width="2.20" height="2.20" fill="none" stroke="#000" stroke-width="0.9"/>
<rect x="276.15" y="302.10" width="2.20" height="2.20" fill="none" stroke="#000" stroke-width="0.9"/>
<rect x="278.30" y="302.10" width="2.20" height="2.20" fill="none" stroke="#000" stroke-width="0.9"/>
<rect x="280.45" y="302.10" width="2.20" height="2.20" fill="none" stroke="#000" stroke-width="0.9"/>
<rect x="282.60" y="302.10" width="2.20" height="2.20" fill="none" stroke="#000" stroke-width="0.9"/>
<rect x="284.75" y="302.10" width="2.20" height="2.20" fill="none" stroke="#000" stroke-width="0.9"/>
<rect x="286.90" y="302.10" width="2.20" height="2.20" fill="none" stroke="#000" stroke-width="0.9"/>
<rect x="289.05" y="302.10" width="2.20" height="2.20" fill="none" stroke="#000" stroke-width="0.9"/>
<rect x="291.20" y="302.10" width="2.20" height="2.20" fill="none" stroke="#000" stroke-width="0.9"/>
<rect x="293.35" y="302.10" width="2.20" height="2.20" fill="none" stroke="#000" stroke-width="0.9"/>
<rect x="295.50" y="302.10" width="2.20" height="2.20" fill="none" stroke="#000" stroke-width="0.9"/>
<rect x="297.65" y="302.10" width="2.20" height="2.20" fill="none" stroke="#000" stroke-width="0.9"/>
<rect x="299.80" y="302.10" width="2.20" height="2.20" fill="none" stroke="#000" stroke-width="0.9"/>
<rect x="289.09" y="300.04" width="4.70" height="4.70" fill="none" stroke="#000" stroke-width="1.0"/>
<rect x="293.28" y="300.04" width="4.70" height="4.70" fill="none" stroke="#000" stroke-width="1.0"/>
<rect x="297.47" y="300.04" width="4.70" height="4.70" fill="none" stroke="#000" stroke-width="1.0"/>
<rect x="301.67" y="300.04" width="4.70" height="4.70" fill="none" stroke="#000" stroke-width="1.0"/>
<rect x="305.16" y="300.04" width="4.70" height="4.70" fill="none" stroke="#000" stroke-width="1.0"/>
<rect x="311.45" y="298.69" width="4.70" height="4.70" fill="none" stroke="#000" stroke-width="1.0"/>
<rect x="317.75" y="297.35" width="4.70" height="4.70" fill="none" stroke="#000" stroke-width="1.0"/>
<rect x="322.64" y="297.35" width="4.70" height="4.70" fill="none" stroke="#000" stroke-width="1.0"/>
<rect x="330.33" y="296.27" width="4.70" height="4.70" fill="none" stroke="#000" stroke-width="1.0"/>
<rect x="337.32" y="293.58" width="4.70" height="4.70" fill="none" stroke="#000" stroke-width="1.0"/>
<rect x="345.01" y="291.97" width="4.70" height="4.70" fill="none" stroke="#000" stroke-width="1.0"/>
<rect x="354.79" y="288.21" width="4.70" height="4.70" fill="none" stroke="#000" stroke-width="1.0"/>
<rect x="364.58" y="283.90" width="4.70" height="4.70" fill="none" stroke="#000" stroke-width="1.0"/>
<rect x="375.06" y="279.60" width="4.70" height="4.70" fill="none" stroke="#000" stroke-width="1.0"/>
<rect x="386.25" y="273.69" width="4.70" height="4.70" fill="none" stroke="#000" stroke-width="1.0"/>
<rect x="399.53" y="265.08" width="4.70" height="4.70" fill="none" stroke="#000" stroke-width="1.0"/>
<rect x="412.11" y="255.94" width="4.70" height="4.70" fill="none" stroke="#000" stroke-width="1.0"/>
<rect x="427.49" y="245.19" width="4.70" height="4.70" fill="none" stroke="#000" stroke-width="1.0"/>
<rect x="442.87" y="233.36" width="4.70" height="4.70" fill="none" stroke="#000" stroke-width="1.0"/>
<rect x="461.04" y="218.30" width="4.70" height="4.70" fill="none" stroke="#000" stroke-width="1.0"/>
<rect x="479.91" y="201.63" width="4.70" height="4.70" fill="none" stroke="#000" stroke-width="1.0"/>
<rect x="500.88" y="183.34" width="4.70" height="4.70" fill="none" stroke="#000" stroke-width="1.0"/>
<rect x="523.25" y="161.30" width="4.70" height="4.70" fill="none" stroke="#000" stroke-width="1.0"/>
<rect x="546.32" y="138.71" width="4.70" height="4.70" fill="none" stroke="#000" stroke-width="1.0"/>
<rect x="573.58" y="111.29" width="4.70" height="4.70" fill="none" stroke="#000" stroke-width="1.0"/>
<path d="M318.00 299.45L320.90 304.25L315.10 304.25Z" fill="none" stroke="#000" stroke-width="1.0" stroke-linejoin="miter"/>
<path d="M352.25 291.38L355.15 296.18L349.35 296.18Z" fill="none" stroke="#000" stroke-width="1.0" stroke-linejoin="miter"/>
<path d="M387.20 277.94L390.10 282.74L384.30 282.74Z" fill="none" stroke="#000" stroke-width="1.0" stroke-linejoin="miter"/>
<path d="M422.15 257.50L425.05 262.30L419.25 262.30Z" fill="none" stroke="#000" stroke-width="1.0" stroke-linejoin="miter"/>
<path d="M456.40 233.31L459.30 238.11L453.50 238.11Z" fill="none" stroke="#000" stroke-width="1.0" stroke-linejoin="miter"/>
<path d="M490.65 203.73L493.55 208.53L487.75 208.53Z" fill="none" stroke="#000" stroke-width="1.0" stroke-linejoin="miter"/>
<path d="M526.30 172.00L529.20 176.80L523.40 176.80Z" fill="none" stroke="#000" stroke-width="1.0" stroke-linejoin="miter"/>
<path d="M561.25 138.66L564.15 143.46L558.35 143.46Z" fill="none" stroke="#000" stroke-width="1.0" stroke-linejoin="miter"/>
<path d="M595.15 103.17L598.05 107.97L592.25 107.97Z" fill="none" stroke="#000" stroke-width="1.0" stroke-linejoin="miter"/>
<rect x="154.30" y="79.00" width="4.20" height="4.20" fill="none" stroke="#000" stroke-width="1.0"/>
<rect x="155.30" y="79.00" width="4.20" height="4.20" fill="none" stroke="#000" stroke-width="1.0"/>
<rect x="161.30" y="85.40" width="4.20" height="4.20" fill="none" stroke="#000" stroke-width="1.0"/>
<rect x="160.30" y="96.90" width="4.20" height="4.20" fill="none" stroke="#000" stroke-width="1.0"/>
<rect x="157.30" y="102.10" width="4.20" height="4.20" fill="none" stroke="#000" stroke-width="1.0"/>
<rect x="158.90" y="99.90" width="4.20" height="4.20" fill="none" stroke="#000" stroke-width="1.0"/>
<rect x="163.20" y="71.50" width="4.20" height="4.20" fill="none" stroke="#000" stroke-width="1.0"/>
<rect x="167.00" y="73.00" width="4.20" height="4.20" fill="none" stroke="#000" stroke-width="1.0"/>
<rect x="170.40" y="73.80" width="4.20" height="4.20" fill="none" stroke="#000" stroke-width="1.0"/>
<rect x="174.40" y="73.00" width="4.20" height="4.20" fill="none" stroke="#000" stroke-width="1.0"/>
<rect x="177.40" y="75.30" width="4.20" height="4.20" fill="none" stroke="#000" stroke-width="1.0"/>
<rect x="181.10" y="77.50" width="4.20" height="4.20" fill="none" stroke="#000" stroke-width="1.0"/>
<rect x="184.80" y="79.40" width="4.20" height="4.20" fill="none" stroke="#000" stroke-width="1.0"/>
<rect x="188.60" y="81.20" width="4.20" height="4.20" fill="none" stroke="#000" stroke-width="1.0"/>
<rect x="191.90" y="83.50" width="4.20" height="4.20" fill="none" stroke="#000" stroke-width="1.0"/>
<rect x="196.80" y="85.40" width="4.20" height="4.20" fill="none" stroke="#000" stroke-width="1.0"/>
<rect x="201.70" y="89.00" width="4.20" height="4.20" fill="none" stroke="#000" stroke-width="1.0"/>
<rect x="207.40" y="90.60" width="4.20" height="4.20" fill="none" stroke="#000" stroke-width="1.0"/>
<rect x="212.50" y="91.70" width="4.20" height="4.20" fill="none" stroke="#000" stroke-width="1.0"/>
<rect x="218.40" y="94.90" width="4.20" height="4.20" fill="none" stroke="#000" stroke-width="1.0"/>
<rect x="226.70" y="96.60" width="4.20" height="4.20" fill="none" stroke="#000" stroke-width="1.0"/>
<rect x="233.70" y="98.00" width="4.20" height="4.20" fill="none" stroke="#000" stroke-width="1.0"/>
<rect x="241.20" y="98.60" width="4.20" height="4.20" fill="none" stroke="#000" stroke-width="1.0"/>
<rect x="250.60" y="99.60" width="4.20" height="4.20" fill="none" stroke="#000" stroke-width="1.0"/>
<rect x="260.70" y="101.00" width="4.20" height="4.20" fill="none" stroke="#000" stroke-width="1.0"/>
<rect x="270.40" y="103.10" width="4.20" height="4.20" fill="none" stroke="#000" stroke-width="1.0"/>
<rect x="282.00" y="103.10" width="4.20" height="4.20" fill="none" stroke="#000" stroke-width="1.0"/>
<rect x="294.30" y="103.10" width="4.20" height="4.20" fill="none" stroke="#000" stroke-width="1.0"/>
<rect x="308.00" y="103.10" width="4.20" height="4.20" fill="none" stroke="#000" stroke-width="1.0"/>
<rect x="322.80" y="103.10" width="4.20" height="4.20" fill="none" stroke="#000" stroke-width="1.0"/>
<rect x="338.80" y="105.70" width="4.20" height="4.20" fill="none" stroke="#000" stroke-width="1.0"/>
<rect x="356.40" y="105.70" width="4.20" height="4.20" fill="none" stroke="#000" stroke-width="1.0"/>
<rect x="375.40" y="105.70" width="4.20" height="4.20" fill="none" stroke="#000" stroke-width="1.0"/>
<rect x="396.30" y="105.40" width="4.20" height="4.20" fill="none" stroke="#000" stroke-width="1.0"/>
<rect x="418.40" y="105.40" width="4.20" height="4.20" fill="none" stroke="#000" stroke-width="1.0"/>
<rect x="153.20" y="127.20" width="4.20" height="4.20" fill="none" stroke="#000" stroke-width="1.0"/>
<rect x="151.50" y="170.10" width="4.20" height="4.20" fill="none" stroke="#000" stroke-width="1.0"/>
<rect x="151.80" y="203.90" width="4.20" height="4.20" fill="none" stroke="#000" stroke-width="1.0"/>
<path d="M160.50 63.00L162.90 67.00L158.10 67.00Z" fill="none" stroke="#000" stroke-width="1.0" stroke-linejoin="miter"/>
<path d="M163.00 62.30L165.40 66.30L160.60 66.30Z" fill="none" stroke="#000" stroke-width="1.0" stroke-linejoin="miter"/>
<path d="M165.50 62.50L167.90 66.50L163.10 66.50Z" fill="none" stroke="#000" stroke-width="1.0" stroke-linejoin="miter"/>
<path d="M168.00 63.50L170.40 67.50L165.60 67.50Z" fill="none" stroke="#000" stroke-width="1.0" stroke-linejoin="miter"/>
<path d="M162.00 66.40L164.40 70.40L159.60 70.40Z" fill="none" stroke="#000" stroke-width="1.0" stroke-linejoin="miter"/>
<path d="M164.50 66.40L166.90 70.40L162.10 70.40Z" fill="none" stroke="#000" stroke-width="1.0" stroke-linejoin="miter"/>
<path d="M167.00 66.40L169.40 70.40L164.60 70.40Z" fill="none" stroke="#000" stroke-width="1.0" stroke-linejoin="miter"/>
<path d="M169.50 67.50L171.90 71.50L167.10 71.50Z" fill="none" stroke="#000" stroke-width="1.0" stroke-linejoin="miter"/>
<path d="M171.00 69.50L173.40 73.50L168.60 73.50Z" fill="none" stroke="#000" stroke-width="1.0" stroke-linejoin="miter"/>
<path d="M173.00 71.50L175.40 75.50L170.60 75.50Z" fill="none" stroke="#000" stroke-width="1.0" stroke-linejoin="miter"/>
<path d="M159.40 74.60L161.80 78.60L157.00 78.60Z" fill="none" stroke="#000" stroke-width="1.0" stroke-linejoin="miter"/>
<path d="M158.60 88.00L161.00 92.00L156.20 92.00Z" fill="none" stroke="#000" stroke-width="1.0" stroke-linejoin="miter"/>
<path d="M157.60 93.00L160.00 97.00L155.20 97.00Z" fill="none" stroke="#000" stroke-width="1.0" stroke-linejoin="miter"/>
<path d="M156.10 103.70L158.50 107.70L153.70 107.70Z" fill="none" stroke="#000" stroke-width="1.0" stroke-linejoin="miter"/>
<path d="M160.10 99.20L162.50 103.20L157.70 103.20Z" fill="none" stroke="#000" stroke-width="1.0" stroke-linejoin="miter"/>
<path d="M157.00 101.00L159.40 105.00L154.60 105.00Z" fill="none" stroke="#000" stroke-width="1.0" stroke-linejoin="miter"/>
<path d="M175.80 76.10L178.20 80.10L173.40 80.10Z" fill="none" stroke="#000" stroke-width="1.0" stroke-linejoin="miter"/>
<path d="M179.00 79.10L181.40 83.10L176.60 83.10Z" fill="none" stroke="#000" stroke-width="1.0" stroke-linejoin="miter"/>
<path d="M182.50 83.60L184.90 87.60L180.10 87.60Z" fill="none" stroke="#000" stroke-width="1.0" stroke-linejoin="miter"/>
<path d="M186.90 85.50L189.30 89.50L184.50 89.50Z" fill="none" stroke="#000" stroke-width="1.0" stroke-linejoin="miter"/>
<path d="M189.90 88.50L192.30 92.50L187.50 92.50Z" fill="none" stroke="#000" stroke-width="1.0" stroke-linejoin="miter"/>
<path d="M194.40 92.00L196.80 96.00L192.00 96.00Z" fill="none" stroke="#000" stroke-width="1.0" stroke-linejoin="miter"/>
<path d="M198.90 93.00L201.30 97.00L196.50 97.00Z" fill="none" stroke="#000" stroke-width="1.0" stroke-linejoin="miter"/>
<path d="M203.60 97.10L206.00 101.10L201.20 101.10Z" fill="none" stroke="#000" stroke-width="1.0" stroke-linejoin="miter"/>
<path d="M209.10 97.70L211.50 101.70L206.70 101.70Z" fill="none" stroke="#000" stroke-width="1.0" stroke-linejoin="miter"/>
<path d="M214.10 99.10L216.50 103.10L211.70 103.10Z" fill="none" stroke="#000" stroke-width="1.0" stroke-linejoin="miter"/>
<path d="M220.10 100.50L222.50 104.50L217.70 104.50Z" fill="none" stroke="#000" stroke-width="1.0" stroke-linejoin="miter"/>
<path d="M228.20 102.50L230.60 106.50L225.80 106.50Z" fill="none" stroke="#000" stroke-width="1.0" stroke-linejoin="miter"/>
<path d="M235.80 102.50L238.20 106.50L233.40 106.50Z" fill="none" stroke="#000" stroke-width="1.0" stroke-linejoin="miter"/>
<path d="M243.30 103.20L245.70 107.20L240.90 107.20Z" fill="none" stroke="#000" stroke-width="1.0" stroke-linejoin="miter"/>
<path d="M252.30 102.50L254.70 106.50L249.90 106.50Z" fill="none" stroke="#000" stroke-width="1.0" stroke-linejoin="miter"/>
<path d="M262.80 102.50L265.20 106.50L260.40 106.50Z" fill="none" stroke="#000" stroke-width="1.0" stroke-linejoin="miter"/>
<path d="M272.50 104.00L274.90 108.00L270.10 108.00Z" fill="none" stroke="#000" stroke-width="1.0" stroke-linejoin="miter"/>
<path d="M284.10 104.00L286.50 108.00L281.70 108.00Z" fill="none" stroke="#000" stroke-width="1.0" stroke-linejoin="miter"/>
<path d="M296.40 104.00L298.80 108.00L294.00 108.00Z" fill="none" stroke="#000" stroke-width="1.0" stroke-linejoin="miter"/>
<path d="M310.10 104.00L312.50 108.00L307.70 108.00Z" fill="none" stroke="#000" stroke-width="1.0" stroke-linejoin="miter"/>
<path d="M324.90 104.00L327.30 108.00L322.50 108.00Z" fill="none" stroke="#000" stroke-width="1.0" stroke-linejoin="miter"/>
<path d="M340.90 106.50L343.30 110.50L338.50 110.50Z" fill="none" stroke="#000" stroke-width="1.0" stroke-linejoin="miter"/>
<path d="M358.50 106.50L360.90 110.50L356.10 110.50Z" fill="none" stroke="#000" stroke-width="1.0" stroke-linejoin="miter"/>
<path d="M377.50 106.50L379.90 110.50L375.10 110.50Z" fill="none" stroke="#000" stroke-width="1.0" stroke-linejoin="miter"/>
<path d="M398.40 108.00L400.80 112.00L396.00 112.00Z" fill="none" stroke="#000" stroke-width="1.0" stroke-linejoin="miter"/>
<path d="M420.50 109.30L422.90 113.30L418.10 113.30Z" fill="none" stroke="#000" stroke-width="1.0" stroke-linejoin="miter"/>
<path d="M155.30 127.30L157.70 131.30L152.90 131.30Z" fill="none" stroke="#000" stroke-width="1.0" stroke-linejoin="miter"/>
<path d="M147.60 145.60L150.00 149.60L145.20 149.60Z" fill="none" stroke="#000" stroke-width="1.0" stroke-linejoin="miter"/>
<path d="M153.00 145.00L155.40 149.00L150.60 149.00Z" fill="none" stroke="#000" stroke-width="1.0" stroke-linejoin="miter"/>
<path d="M155.10 146.20L157.50 150.20L152.70 150.20Z" fill="none" stroke="#000" stroke-width="1.0" stroke-linejoin="miter"/>
<path d="M151.20 152.50L153.60 156.50L148.80 156.50Z" fill="none" stroke="#000" stroke-width="1.0" stroke-linejoin="miter"/>
<path d="M153.60 152.50L156.00 156.50L151.20 156.50Z" fill="none" stroke="#000" stroke-width="1.0" stroke-linejoin="miter"/>
<path d="M151.20 176.00L153.60 180.00L148.80 180.00Z" fill="none" stroke="#000" stroke-width="1.0" stroke-linejoin="miter"/>
<path d="M147.60 184.30L150.00 188.30L145.20 188.30Z" fill="none" stroke="#000" stroke-width="1.0" stroke-linejoin="miter"/>
<path d="M150.00 192.60L152.40 196.60L147.60 196.60Z" fill="none" stroke="#000" stroke-width="1.0" stroke-linejoin="miter"/>
<path d="M148.50 200.70L150.90 204.70L146.10 204.70Z" fill="none" stroke="#000" stroke-width="1.0" stroke-linejoin="miter"/>
<path d="M148.40 203.20L150.80 207.20L146.00 207.20Z" fill="none" stroke="#000" stroke-width="1.0" stroke-linejoin="miter"/>
</svg></body></html>
